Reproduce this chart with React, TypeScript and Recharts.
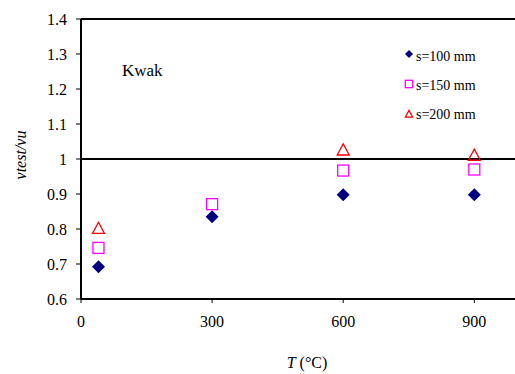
import {
  Label,
  ReferenceLine,
  Scatter,
  ScatterChart,
  XAxis,
  YAxis,
} from "recharts";

// T (°C) and vtest/vu
const temps100 = [40, 300, 600, 900];
const ratios100 = [0.692, 0.835, 0.898, 0.898];

const temps150 = [40, 300, 600, 900];
const ratios150 = [0.746, 0.871, 0.967, 0.97];

const temps200 = [40, 600, 900];
const ratios200 = [0.802, 1.026, 1.011];

const xTicks = [0, 300, 600, 900];
const yTicks = [0.6, 0.7, 0.8, 0.9, 1.0, 1.1, 1.2, 1.3, 1.4];

const seriesNames = ["s=100 mm", "s=150 mm", "s=200 mm"];

const FONT = "Liberation Serif, serif";

const toPoints = (xs: number[], ys: number[]) =>
  xs.map((t, i) => ({ t, r: ys[i] }));

type ShapeProps = { cx?: number; cy?: number };

function Diamond({ cx = 0, cy = 0, r = 6.5 }: ShapeProps & { r?: number }) {
  return (
    <path
      d={`M${cx},${cy - r}L${cx + r},${cy}L${cx},${cy + r}L${cx - r},${cy}Z`}
      fill="#000080"
    />
  );
}

function Square({ cx = 0, cy = 0, r = 5.5 }: ShapeProps & { r?: number }) {
  return (
    <rect
      x={cx - r}
      y={cy - r}
      width={r * 2}
      height={r * 2}
      fill="none"
      stroke="#ff00ff"
      strokeWidth={1.3}
    />
  );
}

function Triangle({ cx = 0, cy = 0, r = 6 }: ShapeProps & { r?: number }) {
  return (
    <path
      d={`M${cx},${cy - r}L${cx + r},${cy + r * 0.85}L${cx - r},${cy + r * 0.85}Z`}
      fill="none"
      stroke="#ff0000"
      strokeWidth={1.3}
    />
  );
}

function LegendBox() {
  const rows = [
    <Diamond cx={409} cy={54} r={4} />,
    <Square cx={409} cy={84} r={3.7} />,
    <Triangle cx={409} cy={114} r={3.6} />,
  ];
  return (
    <g>
      {seriesNames.map((name, i) => (
        <g key={name}>
          {rows[i]}
          <text
            x={416}
            y={61 + i * 29}
            fontFamily={FONT}
            fontSize={14}
            fill="#000"
          >
            {name}
          </text>
        </g>
      ))}
      <text x={122} y={76} fontFamily={FONT} fontSize={17} fill="#000">
        Kwak
      </text>
    </g>
  );
}

export default function App() {
  return (
    <div
      style={{
        position: "absolute",
        left: 0,
        top: 0,
        width: 515,
        height: 374,
        overflow: "hidden",
        background: "#fff",
        fontFamily: FONT,
      }}
    >
      <ScatterChart
        width={530}
        height={374}
        margin={{ top: 19, right: 12, bottom: 35, left: 0 }}
      >
        <XAxis
          type="number"
          dataKey="t"
          domain={[0, 1000]}
          ticks={xTicks}
          tickSize={4}
          tickMargin={13}
          axisLine={{ stroke: "#000", strokeWidth: 2 }}
          tickLine={{ stroke: "#000", strokeWidth: 1 }}
          tick={{ fill: "#000", fontSize: 16, fontFamily: FONT }}
          height={40}
        >
          <Label
            content={() => (
              <text
                x={307}
                y={368}
                textAnchor="middle"
                fontFamily={FONT}
                fontSize={16}
                fill="#000"
              >
                <tspan fontStyle="italic">T</tspan> (°C)
              </text>
            )}
          />
        </XAxis>
        <YAxis
          type="number"
          dataKey="r"
          domain={[0.6, 1.4]}
          ticks={yTicks}
          width={81}
          tickSize={5}
          tickMargin={9}
          tickFormatter={(v: number) => String(Math.round(v * 10) / 10)}
          axisLine={{ stroke: "#000", strokeWidth: 2 }}
          tickLine={{ stroke: "#000", strokeWidth: 1 }}
          tick={{ fill: "#000", fontSize: 16, fontFamily: FONT }}
        >
          <Label
            content={() => (
              <text
                x={26}
                y={155}
                textAnchor="middle"
                transform="rotate(-90 26 155)"
                fontFamily={FONT}
                fontStyle="italic"
                fontSize={16}
                fill="#000"
              >
                vtest/vu
              </text>
            )}
          />
        </YAxis>
        <ReferenceLine y={1.4} stroke="#000" strokeWidth={2} />
        <ReferenceLine y={1} stroke="#000" strokeWidth={2} />
        <Scatter
          name={seriesNames[0]}
          data={toPoints(temps100, ratios100)}
          shape={(p: ShapeProps) => <Diamond cx={p.cx} cy={p.cy} />}
          isAnimationActive={false}
        />
        <Scatter
          name={seriesNames[2]}
          data={toPoints(temps200, ratios200)}
          shape={(p: ShapeProps) => <Triangle cx={p.cx} cy={p.cy} />}
          isAnimationActive={false}
        />
        <Scatter
          name={seriesNames[1]}
          data={toPoints(temps150, ratios150)}
          shape={(p: ShapeProps) => <Square cx={p.cx} cy={p.cy} />}
          isAnimationActive={false}
        />
        <LegendBox />
      </ScatterChart>
    </div>
  );
}
